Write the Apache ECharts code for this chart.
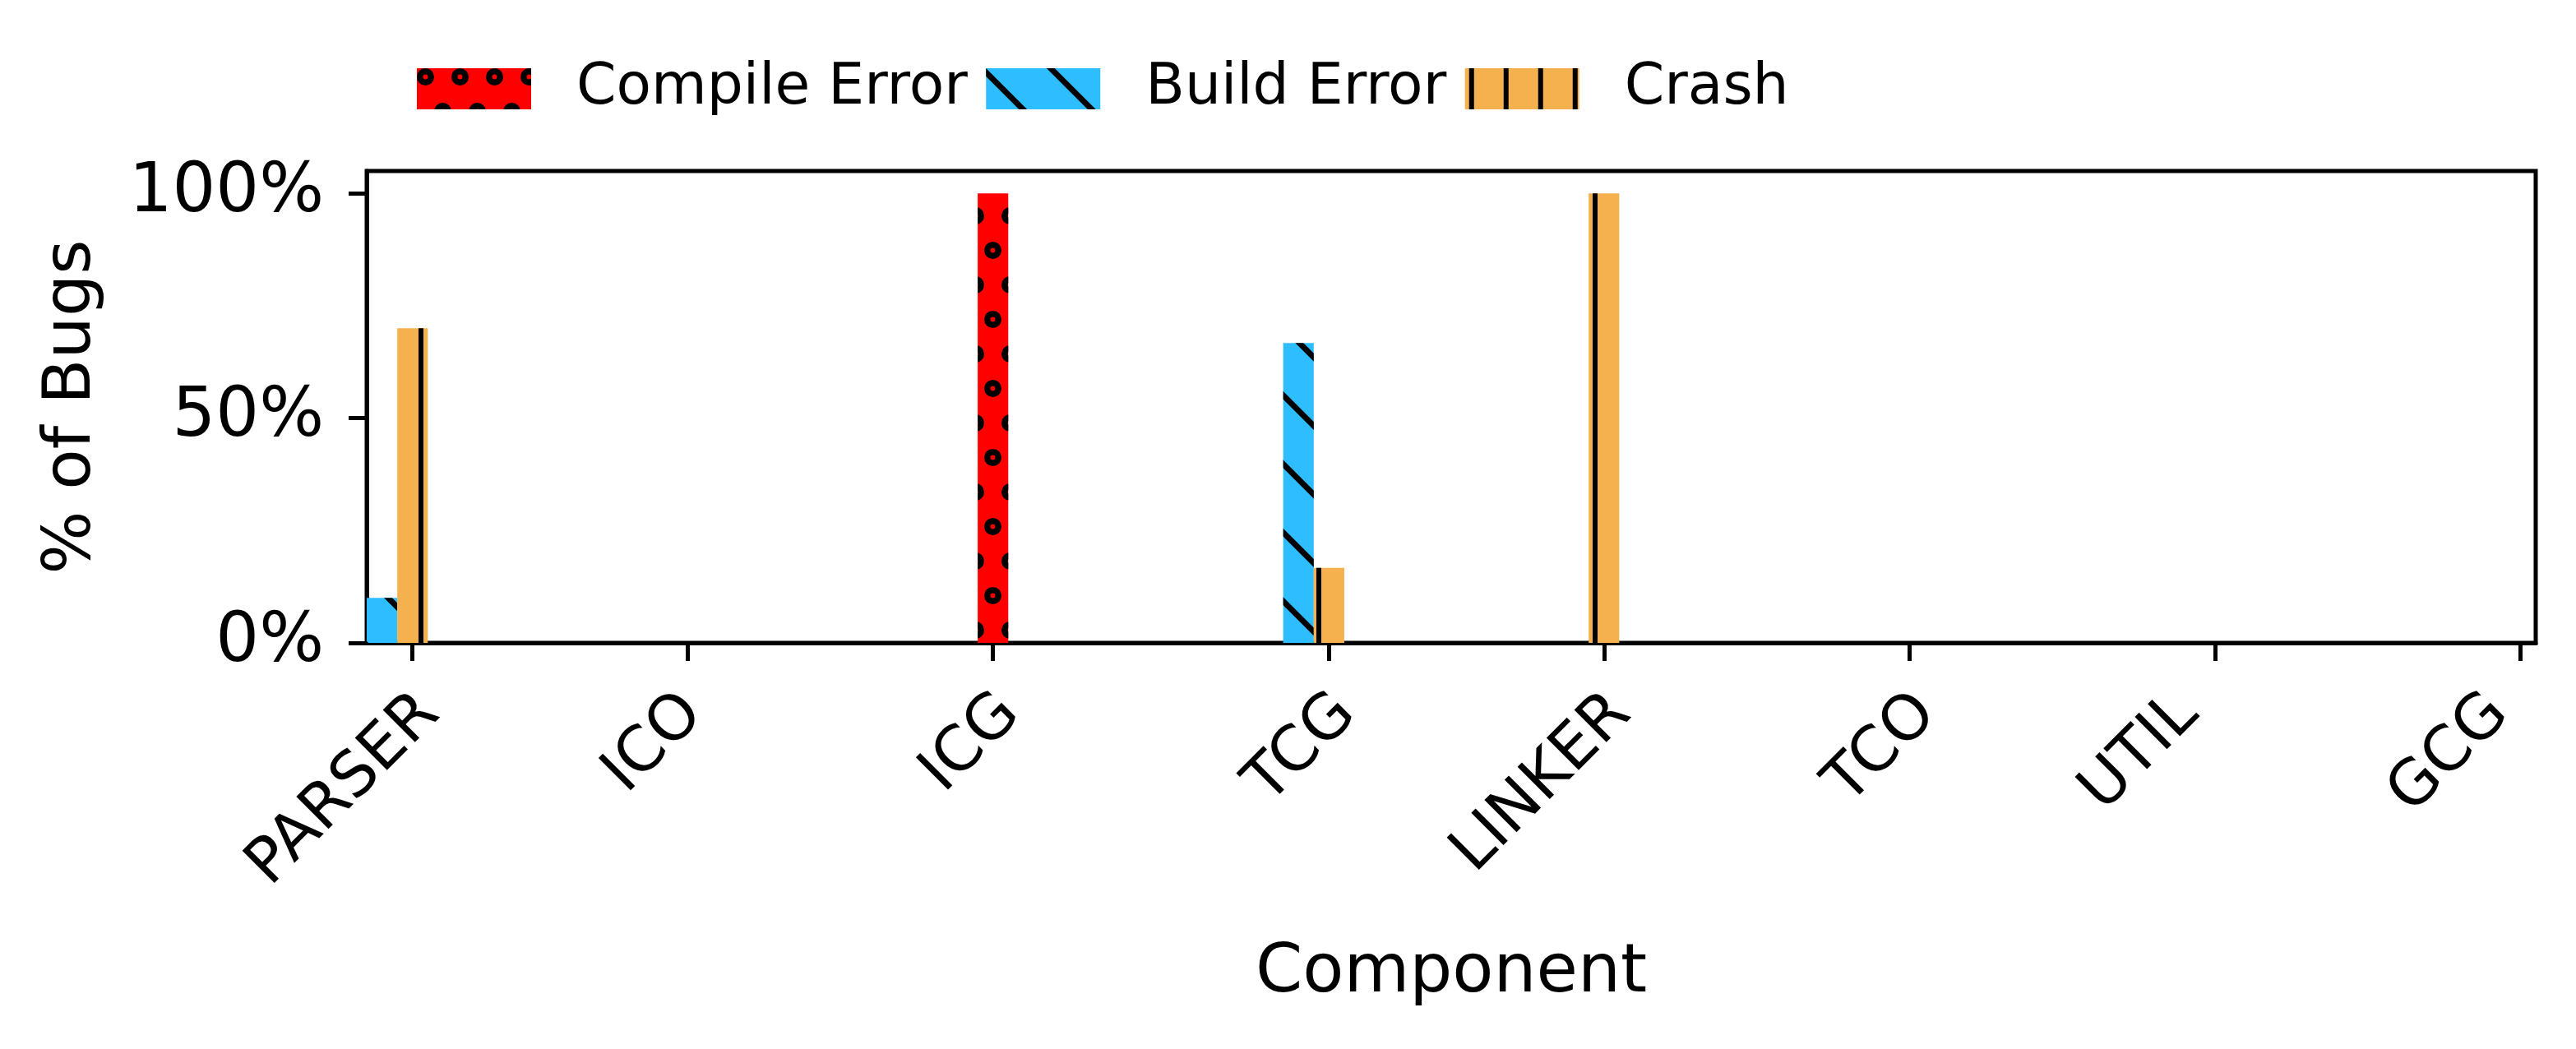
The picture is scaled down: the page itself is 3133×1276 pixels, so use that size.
<!DOCTYPE html>
<html><head><meta charset="utf-8">
<script src="https://cdn.jsdelivr.net/npm/echarts@6/dist/echarts.min.js"></script>
<style>html,body{margin:0;padding:0;background:#fff}#c{width:3133px;height:1276px}</style>
</head><body><div id="c"></div>
<script>
// ---- data ----
const categories = ['PARSER', 'ICO', 'ICG', 'TCG', 'LINKER', 'TCO', 'UTIL', 'GCG'];
const tickPositions = [0.1, 1, 2, 3.1, 4, 5, 6, 7];
const yTicks = [0, 50, 100];
const seriesNames = ['Compile Error', 'Build Error', 'Crash'];
const compileX = [2];
const compileY = [100];
const buildX = [0, 3];
const buildY = [10, 66.7];
const crashX = [0.1, 3.1, 4];
const crashY = [70, 16.7, 100];

// ---- layout / style ----
const W = 3133, H = 1276;
const gridL = 446, gridR = 49, gridT = 208, gridB = 494;
const xMin = -0.05, xMax = 7.05, yMin = 0, yMax = 105;
const barUnit = 0.1;
const barPx = (W - gridL - gridR) / (xMax - xMin) * barUnit;
const FONT = 'DejaVu Sans';
const colors = ['#FF0000', '#2EBEFF', '#F5B14E'];
// horizontal nudge (px) of each rotated tick label, as seen in the reference
const labelShiftPx = [0, -14, 0, 0, 0, 0, -53, -47];
const labelAlongPx = 30;

const ringPath = 'path://M10,0A10,10 0 1,1 10,20A10,10 0 1,1 10,0Z M10,7.2A2.8,2.8 0 1,0 10,12.8A2.8,2.8 0 1,0 10,7.2Z';
const decals = [
  { symbol: ringPath, symbolSize: 1, symbolKeepAspect: true, color: '#000',
    dashArrayX: [[0, 21, 21, 0], [21, 21]], dashArrayY: [21, 21], rotation: 0 },
  { symbol: 'rect', symbolSize: 1, color: '#000',
    dashArrayX: [[42, 0]], dashArrayY: [7, 52], rotation: Math.PI / 4 },
  { symbol: 'rect', symbolSize: 1, color: '#000',
    dashArrayX: [0, 5, 6, 31], dashArrayY: [42, 0], rotation: 0 }
];

function pairs(xs, ys) { return xs.map((x, i) => [x, ys[i]]); }
const seriesData = [pairs(compileX, compileY), pairs(buildX, buildY), pairs(crashX, crashY)];

// rich styles: each label shifted along/perpendicular to its 45deg direction
const rich = {};
labelShiftPx.forEach((s, i) => {
  const k = s * Math.SQRT1_2;
  const along = labelAlongPx + k;
  const perp = k;
  rich['l' + i] = {
    fontFamily: FONT, fontSize: 76, color: '#000',
    padding: [perp > 0 ? 2 * perp : 0, -along, perp < 0 ? -2 * perp : 0, 0]
  };
});

const chart = echarts.init(document.getElementById('c'), null, { renderer: 'canvas', width: W, height: H });
chart.setOption({
  animation: false,
  backgroundColor: '#fff',
  textStyle: { fontFamily: FONT },
  legend: {
    left: 507, top: 73, padding: 0,
    itemWidth: 139, itemHeight: 50, itemGap: 22.5,
    icon: 'rect',
    textStyle: { fontFamily: FONT, fontSize: 69.5, color: '#000', padding: [0, 0, 0, 50] },
    data: seriesNames
  },
  grid: {
    left: gridL, right: gridR, top: gridT, bottom: gridB,
    show: true, borderColor: '#000', borderWidth: 5, backgroundColor: 'transparent',
    outerBoundsMode: 'none'
  },
  xAxis: {
    type: 'value', min: xMin, max: xMax,
    name: 'Component', nameLocation: 'middle', nameGap: 362, nameMoveOverlap: false,
    nameTextStyle: { fontFamily: FONT, fontSize: 82, color: '#000' },
    axisLine: { show: true, onZero: false, lineStyle: { color: '#000', width: 5 } },
    axisTick: { show: true, inside: false, length: 22, customValues: tickPositions, lineStyle: { color: '#000', width: 5 } },
    axisLabel: {
      customValues: tickPositions, rotate: 45, margin: 96,
      fontFamily: FONT, fontSize: 76, color: '#000',
      formatter: function (v) {
        const i = tickPositions.findIndex(t => Math.abs(t - v) < 1e-6);
        return i >= 0 ? '{l' + i + '|' + categories[i] + '}' : '';
      },
      rich: rich
    },
    splitLine: { show: false }
  },
  yAxis: {
    type: 'value', min: yMin, max: yMax,
    name: '% of Bugs', nameLocation: 'middle', nameGap: 318, nameMoveOverlap: false,
    nameTextStyle: { fontFamily: FONT, fontSize: 81, color: '#000' },
    axisLine: { show: true, onZero: false, lineStyle: { color: '#000', width: 5 } },
    axisTick: { show: true, inside: false, length: 22, customValues: yTicks, lineStyle: { color: '#000', width: 5 } },
    axisLabel: {
      customValues: yTicks, margin: 52,
      fontFamily: FONT, fontSize: 83, color: '#000',
      formatter: v => v + '%'
    },
    splitLine: { show: false }
  },
  series: seriesNames.map((name, k) => ({
    type: 'bar', name: name, data: seriesData[k],
    barWidth: barPx, barGap: '-100%',
    itemStyle: { color: colors[k], decal: decals[k] },
    emphasis: { disabled: true }
  }))
});
</script></body></html>
